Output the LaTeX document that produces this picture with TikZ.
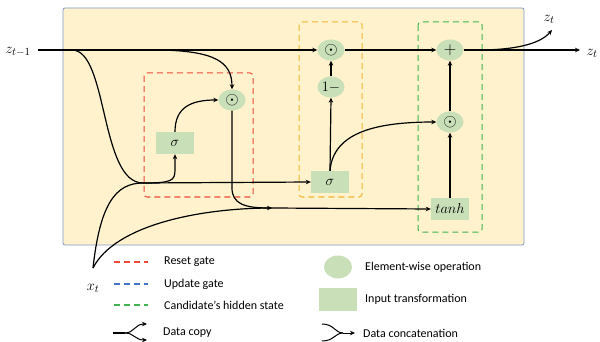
\documentclass[tikz,border=0pt]{standalone}
\usepackage{fontspec}
\setmainfont{Carlito}
\usepackage{tikz}
\usetikzlibrary{shapes.geometric}
\usetikzlibrary{arrows.meta}
\definecolor{boxfill}{HTML}{FFF2CC}
\definecolor{boxline}{HTML}{8096C8}
\definecolor{opgreen}{HTML}{C8DFB8}
\definecolor{resetred}{HTML}{F04A3A}
\definecolor{updateyel}{HTML}{F2B630}
\definecolor{updateblue}{HTML}{4472C4}
\definecolor{candgreen}{HTML}{3FB34F}

\begin{document}
\begin{tikzpicture}[x=1pt, y=-1pt,
  every node/.style={font=\fontsize{15}{17}\selectfont},
  op/.style={ellipse, fill=opgreen, minimum width=27pt, minimum height=21pt, inner sep=0pt, font=\fontsize{17}{19}\selectfont},
  tf/.style={rectangle, fill=opgreen, minimum width=38pt, minimum height=22pt, inner sep=0pt},
  flow/.style={-{Stealth[length=5pt, width=4.5pt]}, line width=1.2pt},
  wire/.style={line width=1.2pt},
  gatebox/.style={dash pattern=on 6pt off 4pt, rounded corners=3pt, line width=1pt},
  legend/.style={anchor=west, inner sep=0pt, font=\fontsize{12}{14}\selectfont}]
  \useasboundingbox (0,0) rectangle (600,342);
  \draw[boxline, fill=boxfill, rounded corners=2pt, line width=0.8pt] (63,8) rectangle (524,245);

  % gates
  \draw[gatebox, resetred] (144,73) rectangle (253,197);
  \draw[gatebox, updateyel] (299,22) rectangle (362,197);
  \draw[gatebox, candgreen] (418,22) rectangle (482,232);

  % operations
  \node[op] (rmul) at (232,100) {$\odot$};
  \node[tf] (rsig) at (175,143) {$\sigma$};
  \node[op] (umul) at (331,50) {$\odot$};
  \node[op, font=\fontsize{15}{17}\selectfont] (oneminus) at (331,87) {$1-$};
  \node[tf] (usig) at (330,182) {$\sigma$};
  \node[op] (plus) at (450,50) {$+$};
  \node[op] (cmul) at (450,122) {$\odot$};
  \node[tf] (tanh) at (450,209) {$tanh$};

  % inputs and outputs
  \node (zprev) at (18,52) {$z_{t-1}$};
  \node (xin) at (93,288) {$x_t$};
  \node (zup) at (549,19) {$z_t$};
  \node (zright) at (592,53) {$z_t$};
  \coordinate (zstart) at (38,50);
  \coordinate (xstart) at (93,268);
  \coordinate (join1) at (143,183);
  \coordinate (join2) at (272,208);
  \coordinate (zout) at (580,50);
  \coordinate (zcopy) at (552,30);

  % reset gate
  \draw[flow] (zstart) -- (umul.west);
  \draw[wire] (72,50) .. controls (108,50) and (100,183) .. (join1);
  \draw[flow] (160,50) .. controls (215,51) and (232,62) .. (rmul.north);
  \draw[flow] (rsig.north) .. controls (175,108) and (190,100) .. (rmul.west);
  \draw[flow] (join1) .. controls (171,183) and (175,181) .. (175,170) -- (rsig.south);
  \draw[flow] (join1) -- (usig.west);
  \draw[flow] (rmul.south) -- (232,188) .. controls (232,204) and (245,208) .. (join2);
  \draw[flow] (join2) -- (tanh.west);
  \draw[wire] (xstart) .. controls (100,205) and (115,183) .. (join1);
  \draw[wire] (xstart) .. controls (115,225) and (200,208) .. (join2);

  % update gate
  \draw[flow] (usig.north) -- (oneminus.south);
  \draw[flow] (oneminus.north) -- (umul.south);
  \draw[flow] (umul.east) -- (plus.west);
  \draw[flow] (usig.north) .. controls (333,135) and (370,122) .. (cmul.west);

  % candidate
  \draw[flow] (tanh.north) -- (cmul.south);
  \draw[flow] (cmul.north) -- (plus.south);
  \draw[flow] (plus.east) -- (zout);
  \draw[flow] (478,50) .. controls (515,50) and (540,44) .. (zcopy);

  % legend
  \foreach \c/\y/\t [count=\i] in {resetred/262/Reset gate, updateblue/284/Update gate, candgreen/305/Candidate’s hidden state}{
    \draw[gatebox, line width=1.4pt, color=\c] (114,\y) -- (148,\y);
    \node[legend] (gate\i) at (164,\y) {\t};
  }
  \node[op, minimum width=28pt, minimum height=23pt] (opkey) at (338,267) {};
  \node[legend] (oplabel) at (365,267) {Element-wise operation};
  \node[tf, minimum width=38pt, minimum height=23pt] (tfkey) at (338,299) {};
  \node[legend] (tflabel) at (365,299) {Input transformation};

  \coordinate (cpa) at (113,333);
  \coordinate (cpb) at (125,333);
  \draw[wire] (cpa) -- (cpb);
  \draw[flow, line width=1pt] (cpb) .. controls (134,333) and (135,324) .. (147,324);
  \draw[flow, line width=1pt] (cpb) .. controls (134,333) and (135,340) .. (147,340);
  \node[legend] (copylabel) at (163,333) {Data copy};

  \coordinate (cca) at (343,333);
  \draw[wire, line width=1pt] (322,324) .. controls (334,324) and (335,333) .. (cca);
  \draw[wire, line width=1pt] (322,341) .. controls (334,341) and (335,333) .. (cca);
  \draw[flow, line width=1pt] (cca) -- (355,333);
  \node[legend] (catlabel) at (363,333) {Data concatenation};
\end{tikzpicture}
\end{document}
